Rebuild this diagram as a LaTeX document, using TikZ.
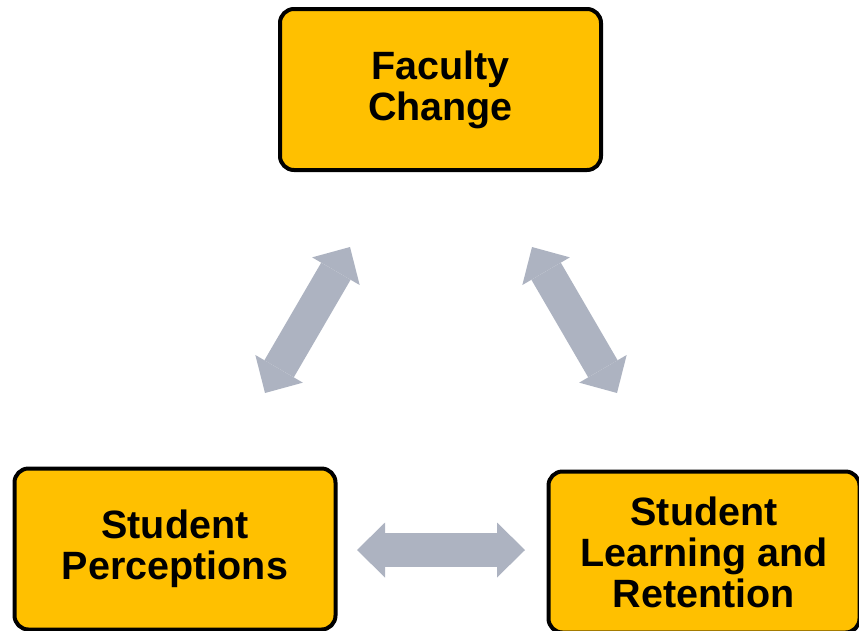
\documentclass[tikz,border=0pt]{standalone}
\usepackage{fontspec}
\setmainfont{Liberation Sans}
\usetikzlibrary{arrows.meta}
\definecolor{boxgold}{HTML}{FFC000}
\definecolor{arrowgray}{HTML}{ADB3C1}

\begin{document}
\begin{tikzpicture}[x=1pt,y=-1pt,
  box/.style={rounded corners=14pt,draw=black,line width=4pt,fill=boxgold,
    minimum width=321pt,minimum height=161pt,inner sep=0pt,align=center,
    font=\bfseries\fontsize{39.5}{41}\selectfont},
  bigarrow/.style={draw=arrowgray,line width=34pt,
    >={Triangle[width=55pt,length=28pt,line width=0pt]},<->}]
\useasboundingbox (0,0) rectangle (859,630);
\clip (0,0) rectangle (859,630);

\node[box] (faculty)     at (440.5,89.5) {Faculty\\Change};
\node[box] (perceptions) at (175,549)    {Student\\Perceptions};
\node[box,minimum width=311pt] (learning) at (704,552) {Student\\Learning and\\Retention};

\coordinate (lt) at (350,247);
\coordinate (lb) at (265,393);
\coordinate (rt) at (532,247);
\coordinate (rb) at (617,393);
\coordinate (hl) at (357,550);
\coordinate (hr) at (525,550);

\draw[bigarrow] (lt) -- (lb);
\draw[bigarrow] (rt) -- (rb);
\draw[bigarrow] (hl) -- (hr);

\end{tikzpicture}
\end{document}
